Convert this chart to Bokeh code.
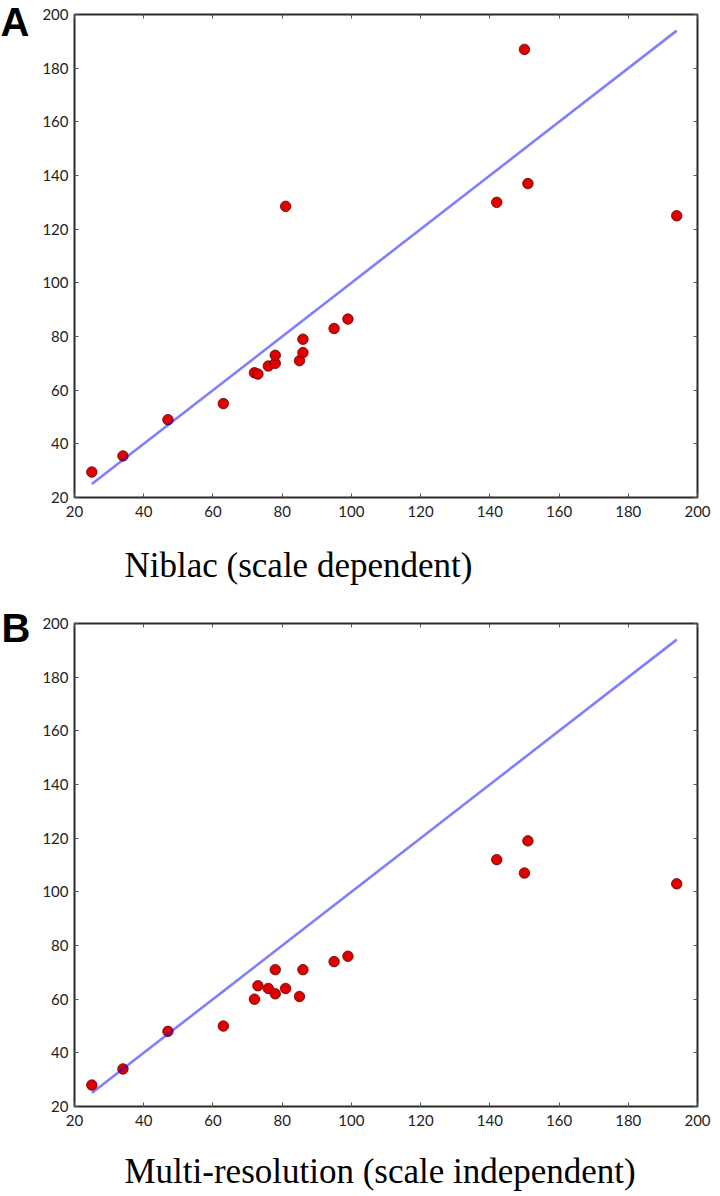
from bokeh.plotting import figure
from bokeh.models import LinearAxis, FixedTicker, Range1d
from bokeh.core.properties import value
from bokeh.layouts import column, row
from bokeh.embed import file_html
from bokeh.resources import INLINE

# ---- data ----
tick_values = [20, 40, 60, 80, 100, 120, 140, 160, 180, 200]

diag_x = [25, 194]
diag_y = [25, 194]

a_x = [25, 34, 47, 63, 72, 73, 76, 78, 78, 81, 85, 86, 86, 95, 99, 142, 150, 151, 194]
a_y = [29.5, 35.5, 49, 55, 66.5, 66, 69, 70, 73, 128.5, 71, 74, 79, 83, 86.5, 130, 187, 137, 125]

b_x = [25, 34, 47, 63, 72, 73, 76, 78, 78, 81, 85, 86, 95, 99, 142, 150, 151, 194]
b_y = [28, 34, 48, 50, 60, 65, 64, 62, 71, 64, 61, 71, 74, 76, 112, 107, 119, 103]

panel_letters = ["A", "B"]
panel_titles = ["Niblac (scale dependent)", "Multi-resolution (scale independent)"]

FRAME_W = 623
FRAME_H = 483
TICK_FONT = "Lato"
LETTER_W = 36
PAGE_W = 720


def style_axis(ax, show_labels):
    ax.ticker = FixedTicker(ticks=tick_values)
    ax.axis_line_color = None
    ax.major_tick_in = 4
    ax.major_tick_out = 0
    ax.minor_tick_line_color = None
    ax.major_tick_line_color = "#555555"
    ax.major_tick_line_width = 1
    if show_labels:
        ax.major_label_text_font = TICK_FONT
        ax.major_label_text_font_size = "15px"
        ax.major_label_text_color = "#222222"
    else:
        ax.major_label_text_font_size = "1px"
        ax.major_label_text_color = None
        ax.major_label_standoff = 0


def text_box(width, height, text, x, y, font, size, style="normal"):
    # a plain canvas whose data units are its pixels (origin bottom-left)
    f = figure(width=width, height=height,
               x_range=Range1d(0, width), y_range=Range1d(0, height),
               x_axis_location=None, y_axis_location=None,
               output_backend="svg", toolbar_location=None, min_border=0)
    f.title.visible = False
    f.grid.visible = False
    f.outline_line_color = None
    f.background_fill_color = "white"
    f.border_fill_color = "white"
    f.text(x=[x], y=[y], text=[text], text_font=value(font), text_font_size=value(size),
           text_font_style=style, text_color="black",
           text_baseline="alphabetic", text_align="left")
    return f


def make_panel(xs, ys, top_border, bottom_border):
    p = figure(
        frame_width=FRAME_W, frame_height=FRAME_H,
        x_range=Range1d(20, 200), y_range=Range1d(20, 200),
        output_backend="svg", toolbar_location=None,
        min_border_left=74 - LETTER_W, min_border_right=PAGE_W - 74 - FRAME_W,
        min_border_top=top_border, min_border_bottom=bottom_border,
    )
    p.title.visible = False
    p.grid.visible = False
    p.background_fill_color = "white"
    p.border_fill_color = "white"
    p.outline_line_color = "#2a2a2a"
    p.outline_line_width = 2
    p.outline_line_alpha = 1.0

    p.scatter(xs, ys, size=10.5, fill_color="#e00000", line_color="#600000", line_width=0.8)
    p.line(diag_x, diag_y, line_color="blue", line_alpha=0.5, line_width=2.6)

    style_axis(p.xaxis[0], True)
    p.xaxis[0].major_label_standoff = 8
    style_axis(p.yaxis[0], True)
    p.yaxis[0].major_label_standoff = 6

    top_ax = LinearAxis()
    right_ax = LinearAxis()
    style_axis(top_ax, False)
    style_axis(right_ax, False)
    p.add_layout(top_ax, "above")
    p.add_layout(right_ax, "right")
    return p


# panel A: page rows 0..530, title 530..600
HA = 14 + FRAME_H + 33
pa = make_panel(a_x, a_y, 14, 33)
la = text_box(LETTER_W, HA, panel_letters[0], 0, HA - 21.5, "Liberation Sans", "40px", "bold")
ta = text_box(PAGE_W, 70, panel_titles[0], 124, 35, "Liberation Serif", "35px")

# panel B: page rows 600..1139, title 1139..1194
HB = 23 + FRAME_H + 33
pb = make_panel(b_x, b_y, 23, 33)
lb = text_box(LETTER_W, HB, panel_letters[1], 1, HB - 27.5, "Liberation Sans", "40px", "bold")
tb = text_box(PAGE_W, 55, panel_titles[1], 124, 23, "Liberation Serif", "35px")

# letter canvases are wrapped in their own column so that the row does not
# align their frames with the chart frames
layout = column(row(column(la), pa, spacing=0), ta,
                row(column(lb), pb, spacing=0), tb, spacing=0)
open("out.html", "w").write(file_html(layout, INLINE))
